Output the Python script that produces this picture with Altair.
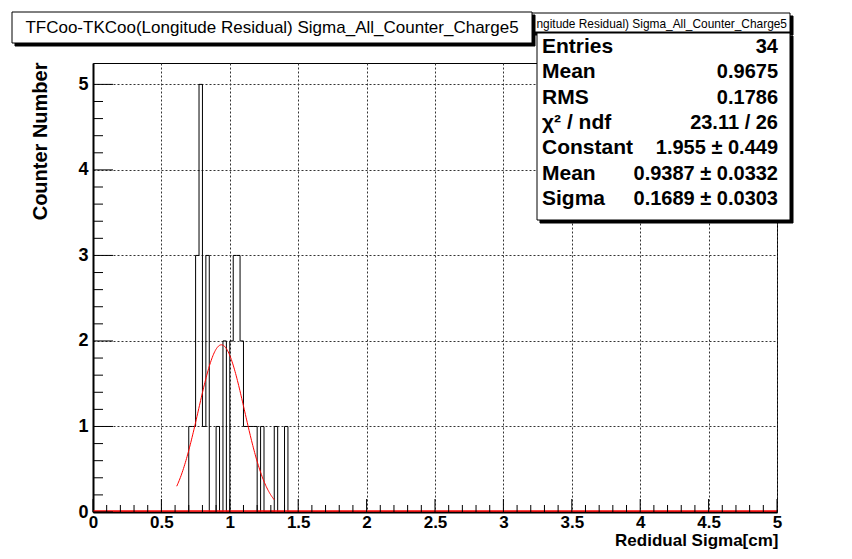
import altair as alt
import pandas as pd
import numpy as np

# ---------------- data ----------------
bin_width = 0.025          # 200 bins over 0..5
n_bins = 200
filled_bin_left = [0.700, 0.725, 0.750, 0.775, 0.800, 0.825, 0.900, 0.950,
                   1.000, 1.025, 1.050, 1.075, 1.100, 1.125, 1.150, 1.175,
                   1.225, 1.325, 1.400]
filled_counts = [1, 1, 3, 5, 1, 3, 1, 2,
                 2, 3, 3, 2, 1, 1, 1, 1,
                 1, 1, 1]

fit_constant = 1.955
fit_mean = 0.9387
fit_sigma = 0.1689
fit_range = [0.612, 1.325]

x_tick_values = [0, 0.5, 1, 1.5, 2, 2.5, 3, 3.5, 4, 4.5, 5]
y_tick_values = [0, 1, 2, 3, 4, 5]

stat_labels = ["Entries", "Mean", "RMS", "\u03c7\u00b2 / ndf", "Constant", "Mean", "Sigma"]
stat_values = ["34", "0.9675", "0.1786", "23.11 / 26", "1.955 \u00b1 0.449",
               "0.9387 \u00b1 0.0332", "0.1689 \u00b1 0.0303"]

title_text = "TFCoo-TKCoo(Longitude Residual) Sigma_All_Counter_Charge5"
# part of the small duplicate title that peeks out from behind the main title box
small_title_visible = title_text[title_text.index("ngitude"):]
x_title = "Redidual Sigma[cm]"
y_title = "Counter Number"

# ---------------- tables ----------------
counts = [0] * n_bins
for left, c in zip(filled_bin_left, filled_counts):
    counts[int(round(left / bin_width))] = c
hist_df = pd.DataFrame({
    "x": [i * bin_width for i in range(n_bins)] + [n_bins * bin_width],
    "y": counts + [0],
})

fx = np.linspace(fit_range[0], fit_range[1], 160)
fit_df = pd.DataFrame({"x": fx,
                       "y": fit_constant * np.exp(-0.5 * ((fx - fit_mean) / fit_sigma) ** 2)})

x_minor = [round(i * 0.1, 1) for i in range(51) if i % 5 != 0]
y_minor = [round(i * 0.2, 1) for i in range(26) if i % 5 != 0]

FONT = "Liberation Sans"
W, H = 684, 449

x_axis = alt.Axis(values=x_tick_values, format="~g", grid=True, gridColor="#333",
                  gridDash=[2, 2], gridWidth=1, ticks=False, domain=True,
                  domainColor="black", domainWidth=2, labelFont=FONT,
                  labelFontWeight="bold", labelFontSize=17, labelColor="black",
                  labelPadding=2, labelFlush=False, labelOverlap=False,
                  title=x_title, titleFont=FONT, titleFontSize=17,
                  titleFontWeight="bold", titleColor="black", titleX=W + 1,
                  titleY=33, titleAlign="right", titleBaseline="alphabetic")
y_axis = alt.Axis(values=y_tick_values, grid=True, gridColor="#333",
                  gridDash=[2, 2], gridWidth=1, ticks=False, domain=True,
                  domainColor="black", domainWidth=2, labelFont=FONT,
                  labelFontWeight="bold", labelFontSize=18, labelColor="black",
                  labelPadding=5, labelFlush=False, labelOverlap=False,
                  title=y_title, titleFont=FONT, titleFontSize=20,
                  titleFontWeight="bold", titleColor="black", titleAngle=270,
                  titleX=-53, titleY=-1, titleAlign="right", titleBaseline="middle")

xs = alt.Scale(domain=[0, 5], nice=False, zero=False)
ys = alt.Scale(domain=[0, 5.25], nice=False, zero=False)


def X(field="x"):
    return alt.X(f"{field}:Q", scale=xs, axis=x_axis)


def Y(field="y"):
    return alt.Y(f"{field}:Q", scale=ys, axis=y_axis)


hist = alt.Chart(hist_df).mark_line(interpolate="step-after", color="black",
                                    strokeWidth=1).encode(x=X(), y=Y())
fit = alt.Chart(fit_df).mark_line(color="red", strokeWidth=1).encode(x=X(), y=Y())
base_red = alt.Chart(pd.DataFrame({"x": [0], "x2": [5], "y": [0]})).mark_rule(
    color="red", strokeWidth=1.5, yOffset=-1).encode(x=X(), x2="x2:Q", y=Y())

xt_major = alt.Chart(pd.DataFrame({"x": x_tick_values})).mark_rule(color="black").encode(
    x=X(), y=alt.value(H), y2=alt.value(H - 13))
xt_minor = alt.Chart(pd.DataFrame({"x": x_minor})).mark_rule(color="black").encode(
    x=X(), y=alt.value(H), y2=alt.value(H - 7))
yt_major = alt.Chart(pd.DataFrame({"y": y_tick_values})).mark_rule(color="black").encode(
    y=Y(), x=alt.value(0), x2=alt.value(20))
yt_minor = alt.Chart(pd.DataFrame({"y": y_minor})).mark_rule(color="black").encode(
    y=Y(), x=alt.value(0), x2=alt.value(10))

one = pd.DataFrame({"a": [0]})


def box(x1, x2, y1, y2, fill="white", stroke="black", sw=1):
    return alt.Chart(one).mark_rect(fill=fill, stroke=stroke, strokeWidth=sw).encode(
        x=alt.value(x1), x2=alt.value(x2), y=alt.value(y1), y2=alt.value(y2))


def label(txt, x, y, size, align="left", weight="normal"):
    return alt.Chart(one).mark_text(text=txt, font=FONT, fontSize=size, fontWeight=weight,
                                    align=align, baseline="middle", color="black").encode(
        x=alt.value(x), y=alt.value(y))


# small (secondary) title box, behind the stats box and big title
small_layers = [box(250, 700, -47, -28, fill="black", stroke="black"),
                box(247, 697, -50, -31),
                label(small_title_visible, 694, -39, 11.9, align="right")]

# stats box
stat_layers = [box(447, 700, -27, 160, fill="black", stroke="black"),
               box(444, 697, -30, 157)]
for i, (lab, val) in enumerate(zip(stat_labels, stat_values)):
    yy = -16 + 25.3 * i
    stat_layers.append(label(lab, 449, yy, 21, weight="bold"))
    stat_layers.append(label(val, 685, yy, 20, align="right", weight="bold"))

# main title box
title_layers = [box(-78, 442, -48, -17, fill="black", stroke="black"),
                box(-81, 439, -51, -20),
                label(title_text, 179, -35.5, 17, align="center")]

chart = alt.layer(
    hist, fit, base_red, xt_major, xt_minor, yt_major, yt_minor,
    *small_layers, *stat_layers, *title_layers
).properties(
    width=W, height=H,
    padding={"left": 85, "top": 55, "right": 60, "bottom": 39},
    autosize=alt.AutoSizeParams(type="none"),
    background="white",
).configure_view(stroke="black", strokeWidth=1)

chart.save("out.html", embed_options={"renderer": "svg", "actions": False})
